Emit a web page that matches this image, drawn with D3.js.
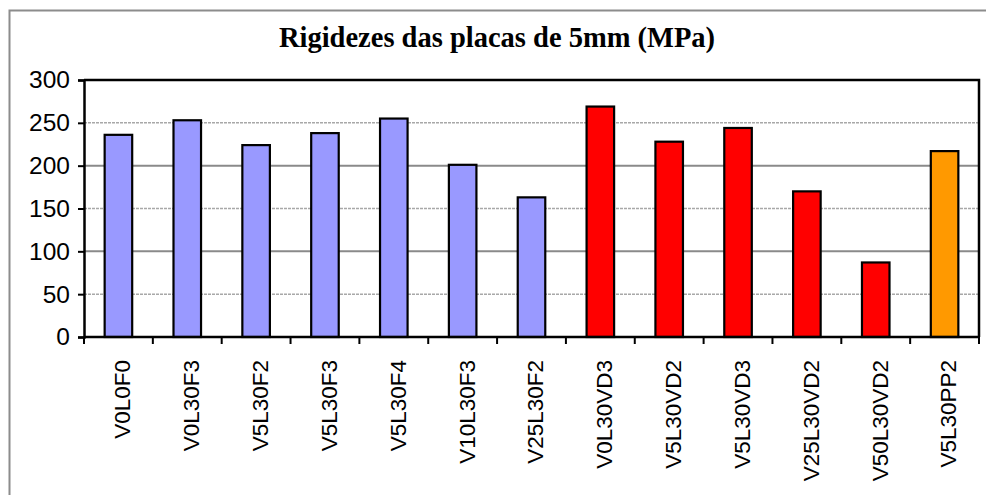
<!DOCTYPE html>
<html>
<head>
<meta charset="utf-8">
<script src="https://cdn.jsdelivr.net/npm/d3@7"></script>
<style>
  body { margin: 0; background: #fff; }
  svg { display: block; }
</style>
</head>
<body>
<script>
// data
var categories = ["V0L0F0", "V0L30F3", "V5L30F2", "V5L30F3", "V5L30F4", "V10L30F3", "V25L30F2",
                  "V0L30VD3", "V5L30VD2", "V5L30VD3", "V25L30VD2", "V50L30VD2", "V5L30PP2"];
var values = [236, 253, 224, 238, 255, 201, 163, 269, 228, 244, 170, 87, 217];
var groups = ["F", "F", "F", "F", "F", "F", "F", "VD", "VD", "VD", "VD", "VD", "PP"];
var yTicks = [0, 50, 100, 150, 200, 250, 300];
var title = "Rigidezes das placas de 5mm (MPa)";

var width = 986, height = 495;
var margin = {top: 80, right: 7, bottom: 158, left: 84};
var plotW = width - margin.left - margin.right,
    plotH = height - margin.top - margin.bottom;

var color = d3.scaleOrdinal()
    .domain(["F", "VD", "PP"])
    .range(["#9999ff", "#ff0000", "#ff9900"]);

var svg = d3.select("body").append("svg")
    .attr("width", width)
    .attr("height", height);

// outer chart frame (only top and left edges are visible)
svg.append("path")
    .attr("d", "M9.5," + height + "V10.5H" + width)
    .attr("fill", "none")
    .attr("stroke", "#8c8c8c")
    .attr("stroke-width", 2);

svg.append("text")
    .attr("x", 497)
    .attr("y", 47)
    .attr("text-anchor", "middle")
    .style("font-family", "'Liberation Serif', 'Times New Roman', serif")
    .style("font-weight", "bold")
    .style("font-size", "28.5px")
    .text(title);

var g = svg.append("g")
    .attr("transform", "translate(" + margin.left + "," + margin.top + ")");

var x = d3.scaleBand()
    .domain(categories)
    .range([0, plotW])
    .paddingInner(0.6)
    .paddingOuter(0.3);

var y = d3.scaleLinear()
    .domain([0, 300])
    .range([plotH, 0]);

// gridlines
g.selectAll(".grid")
    .data(yTicks.filter(function(d) { return d > 0 && d < 300; }))
  .enter().append("line")
    .attr("class", "grid")
    .attr("x1", 0)
    .attr("x2", plotW)
    .attr("y1", function(d) { return y(d); })
    .attr("y2", function(d) { return y(d); })
    .attr("stroke", function(d) { return d % 100 ? "#a8a8a8" : "#8a8a8a"; })
    .attr("stroke-width", function(d) { return d % 100 ? 1.5 : 2; })
    .attr("stroke-dasharray", function(d) { return d % 100 ? "3,1" : null; });

// bars
g.selectAll(".bar")
    .data(values)
  .enter().append("rect")
    .attr("class", "bar")
    .attr("x", function(d, i) { return x(categories[i]); })
    .attr("width", x.bandwidth())
    .attr("y", function(d) { return y(d); })
    .attr("height", function(d) { return plotH - y(d); })
    .attr("fill", function(d, i) { return color(groups[i]); })
    .attr("stroke", "#000")
    .attr("stroke-width", 2.2);

// plot frame top + right
g.append("path")
    .attr("d", "M0,0H" + plotW + "V" + plotH)
    .attr("fill", "none")
    .attr("stroke", "#000")
    .attr("stroke-width", 2.5);

// y axis
var yAxis = g.append("g")
    .call(d3.axisLeft(y).tickValues(yTicks).tickSize(6).tickPadding(8));
yAxis.select(".domain").attr("stroke", "#000").attr("stroke-width", 2.5);
yAxis.selectAll(".tick line").attr("stroke", "#000").attr("stroke-width", 2);
yAxis.selectAll(".tick text")
    .style("font-family", "'Liberation Sans', Arial, sans-serif")
    .style("font-size", "24.5px")
    .attr("fill", "#000");

// x axis: ticks sit on category boundaries
var step = x.step();
var xAxis = g.append("g")
    .attr("transform", "translate(0," + plotH + ")");
xAxis.append("line")
    .attr("x1", 0).attr("x2", plotW)
    .attr("stroke", "#000").attr("stroke-width", 2.5);
xAxis.selectAll(".xtick")
    .data(d3.range(categories.length + 1))
  .enter().append("line")
    .attr("class", "xtick")
    .attr("x1", function(d) { return d * step; })
    .attr("x2", function(d) { return d * step; })
    .attr("y1", 0)
    .attr("y2", 7)
    .attr("stroke", "#000")
    .attr("stroke-width", 2);

xAxis.selectAll(".xlabel")
    .data(categories)
  .enter().append("text")
    .attr("class", "xlabel")
    .attr("transform", function(d) {
      return "translate(" + (x(d) + x.bandwidth() / 2 + 4) + ",23) rotate(-90)";
    })
    .attr("dy", "0.35em")
    .attr("text-anchor", "end")
    .style("font-family", "'Liberation Sans', Arial, sans-serif")
    .style("font-size", "22.5px")
    .attr("fill", "#000")
    .text(function(d) { return d; });
</script>
</body>
</html>
